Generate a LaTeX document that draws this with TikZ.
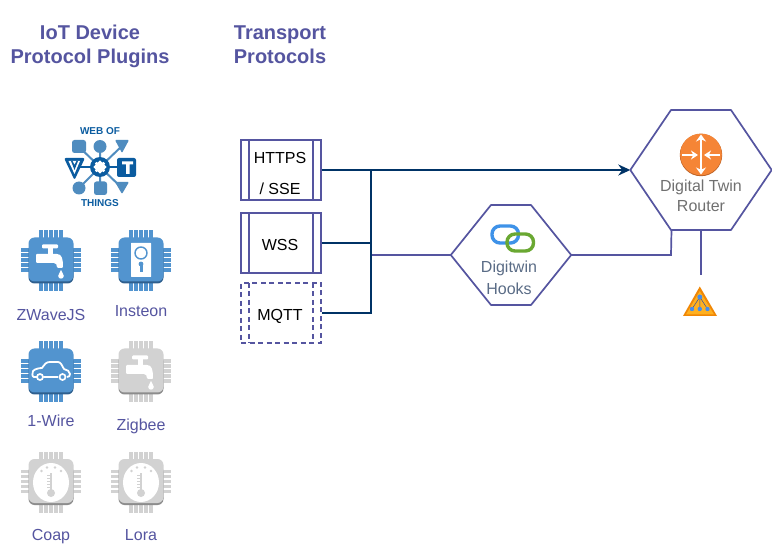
\documentclass[tikz,border=0pt]{standalone}
\usepackage{fontspec}
\setmainfont{Liberation Sans}
\usetikzlibrary{arrows.meta}
\definecolor{ink}{HTML}{5555A0}
\definecolor{edgeblue}{HTML}{003366}
\definecolor{chipblue}{HTML}{5294CF}
\definecolor{chipbluedark}{HTML}{2E5F8E}
\definecolor{chipgray}{HTML}{D2D2D2}
\definecolor{chipgraydark}{HTML}{8C8C8C}
\definecolor{wotdark}{HTML}{0B5CA0}
\definecolor{wotlight}{HTML}{4F8CBF}
\definecolor{linkblue}{HTML}{3E92E8}
\definecolor{linkgreen}{HTML}{6AA832}
\definecolor{hooktext}{HTML}{5A6C86}
\definecolor{routertext}{HTML}{707070}
\definecolor{orangedark}{HTML}{BE6428}
\definecolor{orangemain}{HTML}{F58536}
\definecolor{triouter}{HTML}{F08705}
\definecolor{triinner}{HTML}{FFB020}
\definecolor{triline}{HTML}{3250A0}
\definecolor{tridot}{HTML}{468CEB}
\tikzset{
  lbl/.style={anchor=base,inner sep=0pt,font=\fontsize{16}{18}\selectfont,text=ink},
  boxtext/.style={anchor=base,inner sep=0pt,font=\fontsize{16}{18}\selectfont,text=black},
  headtext/.style={anchor=base,inner sep=0pt,font=\fontsize{20}{24}\selectfont\bfseries,text=ink},
  protobox/.style={draw=ink,line width=1.7pt,minimum width=80pt,minimum height=60pt,inner sep=0pt},
  hexframe/.style={draw=ink,line width=1.7pt,line join=round},
  dark/.style={draw=edgeblue,line width=1.8pt},
  plain/.style={draw=ink,line width=1.7pt},
  hooklbl/.style={anchor=base,inner sep=0pt,font=\fontsize{16}{18}\selectfont,text=hooktext},
  routerlbl/.style={anchor=base,inner sep=0pt,font=\fontsize{16}{18}\selectfont,text=routertext},
  wottext/.style={anchor=base,inner sep=0pt,font=\fontsize{10}{12}\selectfont\bfseries,text=wotdark},
  rarrow/.style={white,line width=2.6pt}
}
\newcommand{\chipbase}[4]{%
  \begin{scope}[shift={(#1,#2)}]
  \foreach \p in {-10,-5,0,5,10}{
    \fill[#3] (\p-1.6,-30) rectangle (\p+1.6,31);
    \fill[#3] (-30,\p-1.6) rectangle (30,\p+1.6);
  }
  \fill[#4,rounded corners=6pt] (-22.5,-16) rectangle (22.5,23.5);
  \fill[#3,rounded corners=6pt] (-22.5,-22.5) rectangle (22.5,21.5);
  \end{scope}}
\newcommand{\tapicon}[2]{%
  \begin{scope}[shift={(#1,#2)}]
  \fill[white,rounded corners=1pt] (-9,-15.5) rectangle (7,-11.5);
  \fill[white] (-3,-12) rectangle (2,-5.5);
  \fill[white,rounded corners=1pt] (-15,-6) -- (5,-6) .. controls (11,-6) and (12,-1) .. (12,8) -- (6,8) .. controls (6,5) and (5,3) .. (2,3) -- (-15,3) -- cycle;
  \fill[white] (10,10) .. controls (9,13) and (7.2,14) .. (7.2,16) .. controls (7.2,19.5) and (12.8,19.5) .. (12.8,16) .. controls (12.8,14) and (11,13) .. (10,10) -- cycle;
  \end{scope}}
\newcommand{\thermicon}[2]{%
  \begin{scope}[shift={(#1,#2)}]
  \fill[white] (0,1) ellipse (18 and 19.5);
  \fill[chipgray] (-1,-9) rectangle (1,11);
  \fill[chipgray] (0,11.5) circle (4);
  \foreach \a/\b in {-9.5/-10.5,-4/-14,4/-14,10/-10.5}{\fill[chipgray] (\a,\b) circle (1.4);}
  \foreach \t in {-6,-3,0,3,6}{\draw[chipgray,line width=.5pt] (-4,\t) -- (-1,\t);}
  \end{scope}}
\begin{document}
\begin{tikzpicture}[x=1pt,y=-1pt]
\useasboundingbox (0,0) rectangle (772,548);
\fill[white] (0,0) rectangle (772,548);

% headings
\node[headtext] (h1a) at (90,40) {IoT Device};
\node[headtext] (h1b) at (90,64) {Protocol Plugins};
\node[headtext] (h2a) at (280,40) {Transport};
\node[headtext] (h2b) at (280,64) {Protocols};

% Web of Things logo
\node[wottext] (wot1) at (100,134.5) {WEB OF};
\node[wottext] (wot2) at (100,207) {THINGS};
\draw[wotlight,line width=2pt] (78,146) -- (100,167) -- (122,146) (100,146) -- (100,188) (79,188) -- (100,167) -- (122,188);
\fill[wotlight,rounded corners=2.5pt] (72,140) rectangle (86,153);
\fill[wotlight] (100,146.5) circle (6.5);
\fill[wotlight,rounded corners=1pt] (115,140) -- (129,140) -- (122,153) -- cycle;
\fill[wotlight] (79,188) circle (6.5);
\fill[wotlight,rounded corners=2.5pt] (94,181.5) rectangle (107,195);
\fill[wotlight,rounded corners=1pt] (115,182) -- (129,182) -- (122,194) -- cycle;
\draw[wotdark,line width=2.5pt] (80,167) -- (120,167);
\fill[wotdark,rounded corners=2pt] (64,158) -- (85,158) -- (74.5,180) -- cycle;
\fill[white] (68.5,161) -- (80,161) -- (74.5,174) -- cycle;
\fill[wotdark] (74.5,165) -- (76.5,161) -- (78,161) -- (74.5,170) -- (71,161) -- (72.5,161) -- cycle;
\fill[wotdark,rounded corners=2pt] (117,158) rectangle (136,177);
\fill[white] (122,161.5) rectangle (133,164.5) (126,161.5) rectangle (129.5,174);
\fill[wotdark] (100,167) circle (10);
\fill[white] (100,167) circle (5.5);
\foreach \a in {0,45,...,315}{\fill[white] (100,167) ++(\a:5) circle (1.6);}

% chips
\chipbase{51}{260}{chipblue}{chipbluedark}
\tapicon{51}{260}
\chipbase{141}{260}{chipblue}{chipbluedark}
\begin{scope}[shift={(141,260)}]
  \fill[white,rounded corners=.5pt] (-10,-17) rectangle (10,17);
  \draw[chipblue,line width=1.4pt] (0,-7) circle (6);
  \fill[chipblue] (0,4) circle (2.4);
  \fill[chipblue] (-1.5,4) rectangle (1.5,12.5);
\end{scope}
\chipbase{51}{371}{chipblue}{chipbluedark}
\begin{scope}[shift={(51,371)}]
  \draw[white,line width=1.8pt,line join=round] (-7.5,6) -- (-17,6) .. controls (-19,6) and (-19,2) .. (-18,0) .. controls (-16,-2) and (-12,-3) .. (-9,-3) .. controls (-6,-7) and (-5,-9) .. (-1,-9) -- (7,-9) .. controls (10,-9) and (11,-5) .. (13,-2) .. controls (16,-1) and (19,0) .. (19,3) .. controls (19,5) and (18,6) .. (16,6) (7,6) -- (-7,6);
  \draw[white,line width=1.7pt,fill=chipblue] (-11,6) circle (3);
  \draw[white,line width=1.7pt,fill=chipblue] (11.5,6) circle (3);
\end{scope}
\chipbase{141}{371}{chipgray}{chipgraydark}
\tapicon{141}{371}
\chipbase{51}{481.5}{chipgray}{chipgraydark}
\thermicon{51}{481.5}
\chipbase{141}{481.5}{chipgray}{chipgraydark}
\thermicon{141}{481.5}

\node[lbl] (zwave) at (51,321) {ZWaveJS};
\node[lbl] (insteon) at (141,317) {Insteon};
\node[lbl] (onewire) at (51,426) {1-Wire};
\node[lbl] (zigbee) at (141,430) {Zigbee};
\node[lbl] (coap) at (51,540) {Coap};
\node[lbl] (lora) at (141,540) {Lora};

% transport boxes
\node[protobox] (https) at (281,170) {};
\node[protobox] (wss) at (281,243) {};
\node[protobox,dash pattern=on 5pt off 3.5pt] (mqtt) at (281,313) {};
\draw[plain] (249,140) -- (249,200) (313,140) -- (313,200);
\draw[plain] (249,213) -- (249,273) (313,213) -- (313,273);
\draw[plain,dash pattern=on 5pt off 3.5pt] (249,283) -- (249,343) (313,283) -- (313,343);
\node[boxtext] (t1) at (280,164) {HTTPS};
\node[boxtext] (t2) at (280,195) {/ SSE};
\node[boxtext] (t3) at (280,251) {WSS};
\node[boxtext] (t4) at (280,321) {MQTT};

% hexagons (anchor nodes carry the edge ends)
\node[inner sep=0pt,minimum width=120pt,minimum height=100pt] (hooks) at (511,255) {};
\node[inner sep=0pt,minimum width=141pt,minimum height=120pt] (router) at (701,170) {};
\coordinate (jt) at (371,170);
\coordinate (jm) at (371,243);
\coordinate (jh) at (371,255);
\coordinate (jb) at (371,313);
\coordinate (rhook) at (671.5,230);
\coordinate (rdown) at (701,230);
\coordinate (tail) at (701,275);

% connectors
\draw[plain] (jh) -- (hooks.west);
\draw[plain] (hooks.east) -- (671,255) -- (rhook);
\draw[plain] (rdown) -- (tail);
\draw[dark] (wss.east) -- (jm);
\draw[dark] (mqtt.east) -- (jb) -- (jt);
\draw[dark,-{Stealth[length=12pt,width=11pt]}] (https.east) -- (router.west);

\draw[hexframe] (hooks.west) -- (491,205) -- (531,205) -- (hooks.east) -- (531,305) -- (491,305) -- cycle;
\draw[hexframe] (router.west) -- (671,110) -- (731,110) -- (router.east) -- (731,230) -- (671,230) -- cycle;

% link icon
\draw[rounded corners=8pt,line width=3.4pt,draw=linkblue] (492,226) rectangle (518.5,243);
\draw[rounded corners=8pt,line width=3.4pt,draw=linkgreen] (507,234) rectangle (533.5,251);
\node[hooklbl] (hk1) at (509,273) {Digitwin};
\node[hooklbl] (hk2) at (509,295) {Hooks};

% router icon
\fill[orangedark] (701,155) circle (21.2);
\fill[orangemain] (701,154.4) circle (20.8);
\draw[rarrow,{Stealth[length=7pt,width=10pt]}-{Stealth[length=7pt,width=10pt]}] (701,134.5) -- (701,174.5);
\draw[rarrow,-{Stealth[length=7pt,width=9pt]}] (682,155) -- (698,155);
\draw[rarrow,-{Stealth[length=7pt,width=9pt]}] (720,155) -- (704,155);
\node[routerlbl] (rt1) at (701,192) {Digital Twin};
\node[routerlbl] (rt2) at (701,212) {Router};

% hierarchy triangle icon
\fill[triouter] (699.8,286.5) -- (717,316) -- (683,316) -- cycle;
\fill[triinner] (699.8,291) -- (714,314.5) -- (686,314.5) -- cycle;
\draw[triline,line width=.5pt] (699.8,297) -- (692,309) (699.8,297) -- (699.8,309) (699.8,297) -- (707.5,309);
\foreach \x/\y/\r in {699.8/297/2.5,692/309/2.2,699.8/309/2.2,707.5/309/2.2}{\fill[tridot] (\x,\y) circle (\r);}
\end{tikzpicture}
\end{document}
